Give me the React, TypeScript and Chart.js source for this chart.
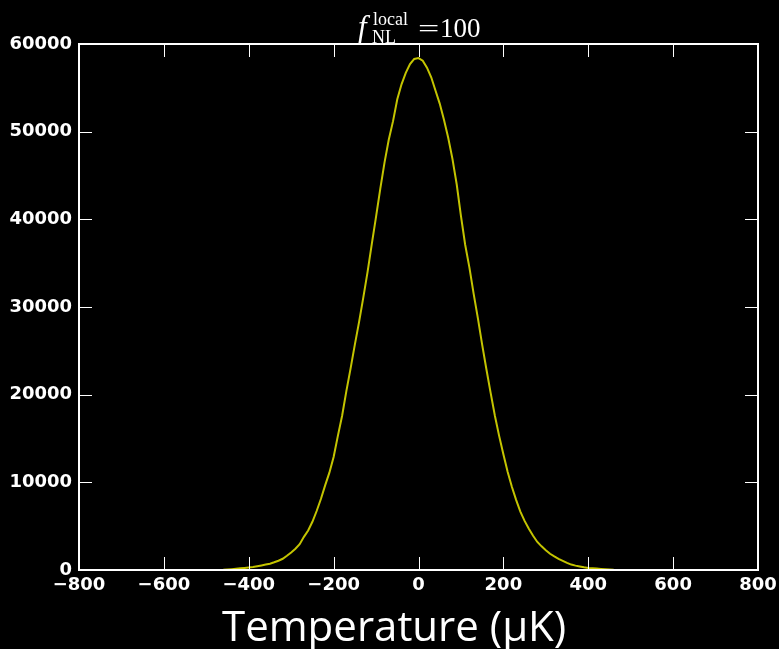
import React, { useEffect, useRef } from "react";
import { Chart, registerables } from "chart.js";

Chart.register(...registerables);

// Histogram of temperatures (μK) — counts
const temperatures = [
  -460, -450, -440, -430, -420, -410, -400, -390, -380, -370, -360, -350, -340, -330, -320, -310,
  -300, -290, -280, -270, -260, -250, -240, -230, -220, -210, -200, -190, -180, -170, -160, -150,
  -140, -130, -120, -110, -100, -90, -80, -70, -60, -50, -40, -30, -20, -10, 0, 10, 20, 30, 40,
  50, 60, 70, 80, 90, 100, 110, 120, 130, 140, 150, 160, 170, 180, 190, 200, 210, 220, 230, 240,
  250, 260, 270, 280, 290, 300, 310, 320, 330, 340, 350, 360, 370, 380, 390, 400, 410, 420, 430,
  440, 450, 460,
];
const counts = [
  30, 60, 100, 140, 190, 230, 280, 340, 430, 520, 620, 720, 880, 1060, 1280, 1620,
  2000, 2430, 2950, 3780, 4500, 5500, 6730, 8100, 9650, 11100, 12900, 15300, 17600, 20400, 23000, 25700,
  28300, 31100, 34000, 37200, 40300, 43500, 46500, 49100, 51200, 53700, 55400, 56700, 57700, 58300, 58400, 58100, 57300, 56200, 54700,
  53200, 51350, 49300, 46900, 44000, 40400, 37100, 34500, 31500, 28700, 25700, 22900, 20200, 17600, 15300, 13200,
  11200, 9500, 8000, 6650, 5600, 4700, 3900, 3200, 2700, 2250, 1850, 1550, 1280, 1050, 820, 620,
  500, 400, 310, 240, 200, 160, 120, 90, 55, 30,
];

const xTickValues = [-800, -600, -400, -200, 0, 200, 400, 600, 800];
const yTickValues = [0, 10000, 20000, 30000, 40000, 50000, 60000];

const titleBase = "f";
const titleSub = "NL";
const titleSup = "local";
const titleEq = "=";
const titleValue = "100";
const xAxisLabel = "Temperature (μK)";

const fmt = (v: number) => (v < 0 ? "\u2212" + Math.abs(v) : String(v));

const framePlugin = {
  id: "frameTicks",
  afterDatasetsDraw(chart: any) {
    const { ctx, chartArea: a, scales } = chart;
    const TL = 13;
    ctx.save();
    ctx.strokeStyle = "#ffffff";
    ctx.lineWidth = 1;
    ctx.beginPath();
    for (const v of xTickValues) {
      const px = Math.round(scales.x.getPixelForValue(v)) + 0.5;
      ctx.moveTo(px, a.bottom);
      ctx.lineTo(px, a.bottom - TL);
      ctx.moveTo(px, a.top);
      ctx.lineTo(px, a.top + TL);
    }
    for (const v of yTickValues) {
      const py = Math.round(scales.y.getPixelForValue(v)) + 0.5;
      ctx.moveTo(a.left, py);
      ctx.lineTo(a.left + TL, py);
      ctx.moveTo(a.right, py);
      ctx.lineTo(a.right - TL, py);
    }
    ctx.stroke();
    ctx.lineWidth = 2;
    ctx.strokeRect(a.left, a.top, a.right - a.left, a.bottom - a.top);
    ctx.restore();
  },
  afterDraw(chart: any) {
    const { ctx } = chart;
    ctx.save();
    ctx.fillStyle = "#ffffff";
    ctx.textBaseline = "alphabetic";
    ctx.textAlign = "left";
    // title: f_NL^local = 100
    ctx.font = "italic 31px 'Liberation Serif'";
    ctx.fillText(titleBase, 358, 37);
    ctx.font = "18px 'Liberation Serif'";
    ctx.fillText(titleSup, 373, 25);
    ctx.fillText(titleSub, 372, 43);
    ctx.save();
    ctx.translate(418, 37);
    ctx.scale(1.45, 1);
    ctx.font = "26px 'Liberation Serif'";
    ctx.fillText(titleEq, 0, 0);
    ctx.restore();
    ctx.font = "27px 'Liberation Serif'";
    ctx.fillText(titleValue, 440, 37);
    // x axis label
    ctx.font = "42px 'Open Sans'";
    ctx.fillText(xAxisLabel, 222, 641);
    ctx.restore();
  },
};

export default function App() {
  const ref = useRef<HTMLCanvasElement | null>(null);

  useEffect(() => {
    if (!ref.current) return;
    const tickFont = { family: "'DejaVu Sans'", size: 18, weight: "bold" as const };
    const chart = new Chart(ref.current, {
      type: "line",
      data: {
        datasets: [
          {
            data: temperatures.map((t, i) => ({ x: t, y: counts[i] })),
            borderColor: "#c4c400",
            borderWidth: 2,
            pointRadius: 0,
            tension: 0,
            fill: false,
          },
        ],
      },
      options: {
        animation: false,
        responsive: false,
        devicePixelRatio: 1,
        layout: { padding: { top: 44, right: 21, bottom: 0, left: 0 } },
        plugins: { legend: { display: false }, tooltip: { enabled: false }, title: { display: false } },
        scales: {
          x: {
            type: "linear",
            min: -800,
            max: 800,
            afterBuildTicks: (s: any) => {
              s.ticks = xTickValues.map((v) => ({ value: v }));
            },
            afterFit: (s: any) => {
              s.height = 79;
              s.paddingLeft = 0;
              s.paddingRight = 0;
            },
            grid: { display: false, drawTicks: false, tickLength: 0 },
            border: { display: false },
            ticks: {
              color: "#ffffff",
              font: tickFont,
              padding: 5,
              maxRotation: 0,
              autoSkip: false,
              callback: (v: any) => fmt(Number(v)),
            },
          },
          y: {
            type: "linear",
            min: 0,
            max: 60000,
            afterBuildTicks: (s: any) => {
              s.ticks = yTickValues.map((v) => ({ value: v }));
            },
            afterFit: (s: any) => {
              s.width = 79;
              s.paddingTop = 0;
              s.paddingBottom = 0;
            },
            grid: { display: false, drawTicks: false, tickLength: 0 },
            border: { display: false },
            ticks: {
              color: "#ffffff",
              font: tickFont,
              padding: 7,
              autoSkip: false,
              callback: (v: any) => fmt(Number(v)),
            },
          },
        },
      },
      plugins: [framePlugin],
    });
    return () => chart.destroy();
  }, []);

  return (
    <div
      style={{
        position: "fixed",
        left: 0,
        top: 0,
        width: 779,
        height: 649,
        background: "#000000",
      }}
    >
      <canvas ref={ref} width={779} height={649} style={{ display: "block" }} />
    </div>
  );
}
